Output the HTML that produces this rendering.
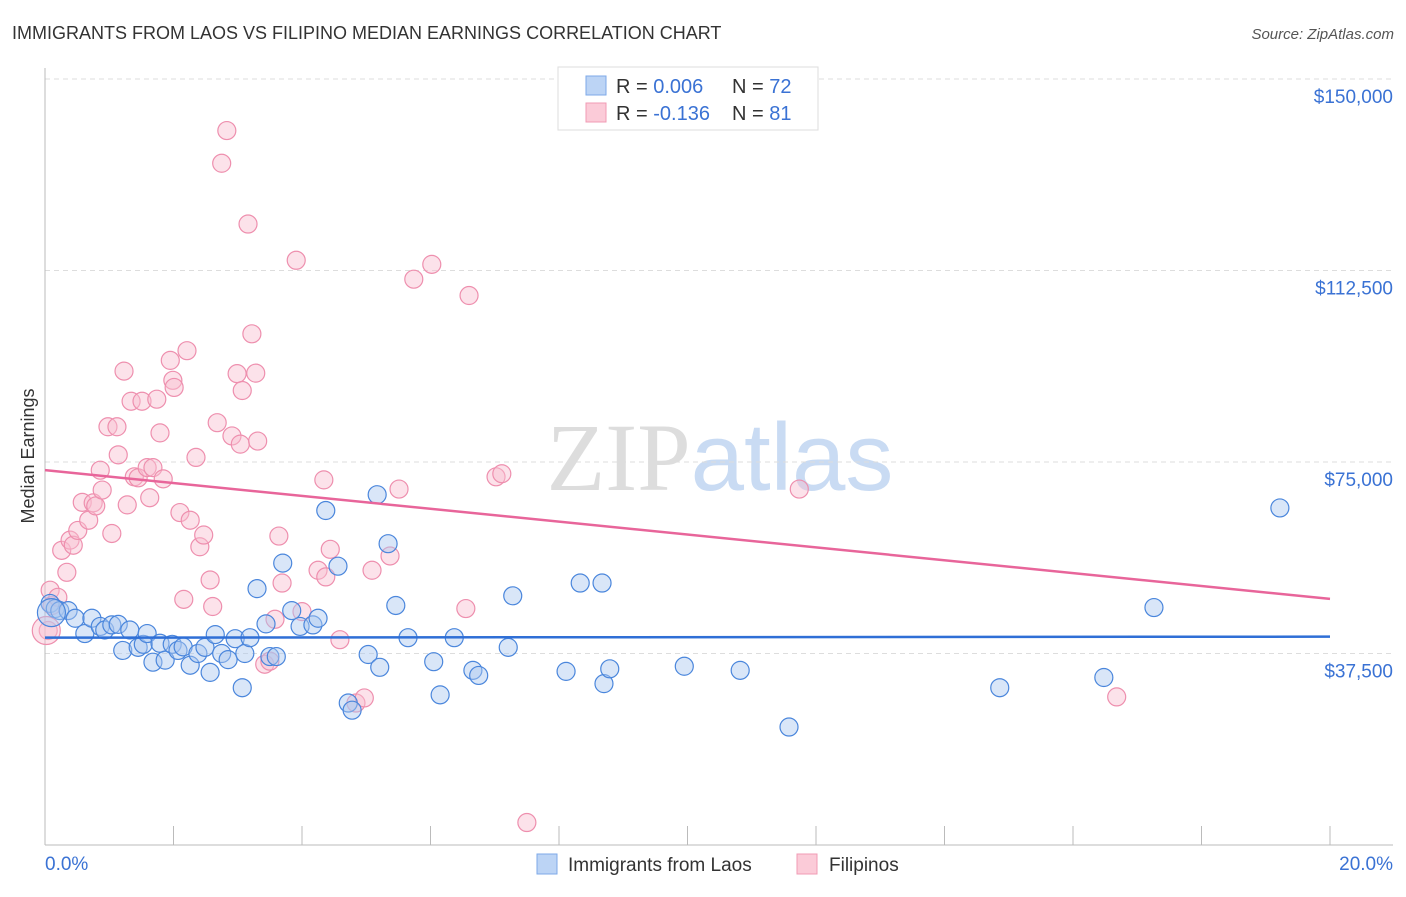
<!DOCTYPE html>
<html><head><meta charset="utf-8"><style>
body{margin:0;background:#fff;font-family:"Liberation Sans",sans-serif;}
svg text{font-family:"Liberation Sans",sans-serif;}
</style></head><body>
<svg id="chart" width="1406" height="892" xmlns="http://www.w3.org/2000/svg">
<text x="12" y="39" font-size="18" fill="#333">IMMIGRANTS FROM LAOS VS FILIPINO MEDIAN EARNINGS CORRELATION CHART</text>
<text x="1394" y="39" font-size="15" fill="#555" text-anchor="end" font-style="italic">Source: ZipAtlas.com</text>
<text x="720" y="490" font-size="96" text-anchor="middle"><tspan fill="#ddd" font-family="Liberation Serif">ZIP</tspan><tspan fill="#c9dbf3">atlas</tspan></text>
<text transform="translate(34,456) rotate(-90)" font-size="18" fill="#333" text-anchor="middle">Median Earnings</text>
<g id="grid"></g><g id="axes"></g><g id="pts"></g><g id="trend"></g>
<g>
<rect x="558" y="67" width="260" height="63" fill="#fff" stroke="#ddd"/>
<rect x="586" y="76" width="20" height="19" fill="#bcd4f5" stroke="#7ea9e8"/>
<rect x="586" y="103" width="20" height="19" fill="#fbcbd8" stroke="#f09bb4"/>
<text x="616" y="93" font-size="20" fill="#333">R = <tspan fill="#3a72d4">0.006</tspan><tspan x="732">N = </tspan><tspan fill="#3a72d4">72</tspan></text>
<text x="616" y="120" font-size="20" fill="#333">R = <tspan fill="#3a72d4">-0.136</tspan><tspan x="732">N = </tspan><tspan fill="#3a72d4"> 81</tspan></text>
</g>
<g>
<rect x="537" y="854" width="20" height="20" fill="#bcd4f5" stroke="#7ea9e8"/>
<text x="568" y="871" font-size="19" fill="#333">Immigrants from Laos</text>
<rect x="797" y="854" width="20" height="20" fill="#fbcbd8" stroke="#f09bb4"/>
<text x="829" y="871" font-size="19" fill="#333">Filipinos</text>
</g>
</svg>
<script>
const yTicks=[37500,75000,112500,150000];
const yTickLabels=["$37,500","$75,000","$112,500","$150,000"];
const xMin=0,xMax=20,yMax=150000;
const laosX=[0.08,0.16,0.23,0.36,0.47,0.62,0.73,0.86,0.93,1.04,1.14,1.21,1.32,1.45,1.53,1.59,1.68,1.79,1.87,1.98,2.07,2.15,2.26,2.38,2.49,2.57,2.65,2.75,2.85,2.96,3.07,3.11,3.19,3.3,3.44,3.5,3.6,3.7,3.84,3.97,4.17,4.25,4.37,4.56,4.72,4.78,5.03,5.17,5.21,5.34,5.46,5.65,6.05,6.15,6.37,6.66,6.75,7.21,7.28,8.11,8.33,8.67,8.7,8.79,9.95,10.82,11.58,14.86,16.48,17.26,19.22,0.1];
const laosY=[47300,46300,45900,45900,44400,41400,44400,42800,42100,43100,43200,38100,42100,38700,39300,41400,35800,39500,36200,39300,38100,38800,35200,37500,38700,33800,41200,37500,36300,40400,30800,37500,40600,50200,43300,36900,36900,55200,45900,42800,43100,44400,65500,54600,27800,26400,37300,68600,34800,59000,46900,40600,35900,29400,40600,34200,33200,38700,48800,34000,51300,51300,31600,34500,35000,34200,23100,30800,32800,46500,66000,45500];
const filX=[0.08,0.11,0.05,0.2,0.26,0.34,0.39,0.44,0.51,0.58,0.68,0.75,0.79,0.89,0.86,1.04,0.98,1.12,1.14,1.23,1.28,1.34,1.39,1.45,1.51,1.59,1.63,1.68,1.74,1.79,1.84,1.95,1.99,2.01,2.1,2.16,2.21,2.26,2.35,2.41,2.47,2.57,2.61,2.68,2.75,2.83,2.91,2.99,3.04,3.07,3.16,3.22,3.28,3.31,3.42,3.5,3.58,3.64,3.69,3.91,4.0,4.25,4.34,4.37,4.44,4.59,4.84,4.97,5.09,5.37,5.51,5.74,6.02,6.55,6.6,7.02,7.11,7.5,11.74,16.68,0.02];
const filY=[49900,46900,42000,48500,57700,53400,59700,58700,61600,67100,63600,67000,66400,69500,73400,61000,81900,81900,76400,92800,66600,86900,72100,71900,86900,73900,68000,73900,87300,80700,71700,94900,91000,89600,65100,48100,96800,63600,75900,58400,60700,51900,46700,82700,133500,139900,80100,92300,78500,89000,121600,100100,92400,79100,35400,36000,44200,60500,51300,114500,45700,53800,71500,52500,57900,40200,27800,28800,53800,56600,69700,110800,113700,46300,107600,72100,72700,4400,69700,29000,42000];
const laosTrend=[40600,40800];
const filTrend=[73400,48200];
const NS='http://www.w3.org/2000/svg';
const L=45,R=1330,T=79,B=845;
function xs(v){return L+(v-xMin)/(xMax-xMin)*(R-L);}
function ys(v){return B-v/yMax*(B-T);}
function mk(tag,attrs,parent){const e=document.createElementNS(NS,tag);for(const k in attrs)e.setAttribute(k,attrs[k]);parent.appendChild(e);return e;}
const grid=document.getElementById('grid'),axes=document.getElementById('axes'),pts=document.getElementById('pts'),trend=document.getElementById('trend');
yTicks.forEach((t,i)=>{
 const g=mk('line',{x1:L,x2:1393,y1:ys(t),y2:ys(t),stroke:'#ddd','stroke-dasharray':'5,4'},grid);
 
 
 const tx=mk('text',{x:1393,y:ys(t)+24,'font-size':19,fill:'#3a72d4','text-anchor':'end'},axes);
 tx.textContent=yTickLabels[i];
 
 
});
const ya=mk('line',{x1:L,x2:L,y1:68,y2:B,stroke:'#bbb'},axes);


const xa=mk('line',{x1:L,x2:1393,y1:B,y2:B,stroke:'#bbb'},axes);


for(let k=1;k<=10;k++){
 const t=mk('line',{x1:xs(k*2),x2:xs(k*2),y1:826,y2:B,stroke:'#bbb'},axes);
 
 
}
const x0=mk('text',{x:45,y:870,'font-size':19,fill:'#3a72d4'},axes);x0.textContent='0.0%';


const x1=mk('text',{x:1393,y:870,'font-size':19,fill:'#3a72d4','text-anchor':'end'},axes);x1.textContent='20.0%';


function series(X,Y,fill,stroke,name){
 X.forEach((x,i)=>{
  const r=(i===X.length-1)?14:9;
  const c=mk('circle',{cx:xs(x),cy:ys(Y[i]),r:r,fill:fill,'fill-opacity':0.45,stroke:stroke,'stroke-width':1.2},pts);
  
  
 });
}
series(filX,filY,'#f8bfd0','#ee8fae','filipino-point');
series(laosX,laosY,'#aac8f0','#4a86dc','laos-point');
const tl=mk('line',{x1:xs(0),x2:xs(20),y1:ys(laosTrend[0]),y2:ys(laosTrend[1]),stroke:'#2f6fd6','stroke-width':2.5},trend);


const tf=mk('line',{x1:xs(0),x2:xs(20),y1:ys(filTrend[0]),y2:ys(filTrend[1]),stroke:'#e8659a','stroke-width':2.5},trend);


</script>
</body></html>
